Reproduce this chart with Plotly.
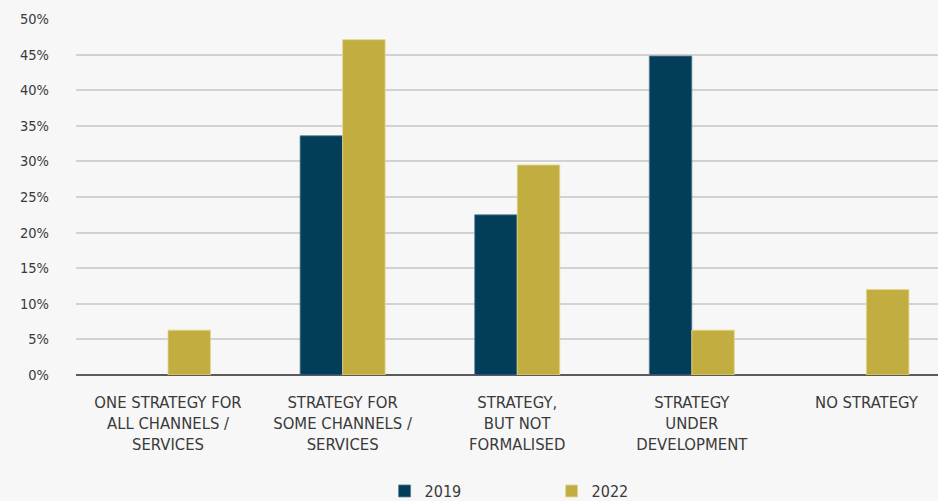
import plotly.graph_objects as go

categories = [
    "ONE STRATEGY FOR<br>ALL CHANNELS /<br>SERVICES",
    "STRATEGY FOR<br>SOME CHANNELS /<br>SERVICES",
    "STRATEGY,<br>BUT NOT<br>FORMALISED",
    "STRATEGY<br>UNDER<br>DEVELOPMENT",
    "NO STRATEGY",
]
values_2019 = [None, 33.6, 22.5, 44.8, None]
values_2022 = [6.3, 47.1, 29.5, 6.3, 12.0]
y_ticks = [0, 5, 10, 15, 20, 25, 30, 35, 40, 45, 50]
y_tick_labels = [f"{v}%" for v in y_ticks]

navy = "#033D5A"
gold = "#C2AE40"
bg = "#F7F7F7"
text_color = "#3A3A3A"
font_family = "Liberation Sans Narrow, DejaVu Sans Condensed, Roboto, sans-serif"

x_idx = list(range(len(categories)))

fig = go.Figure()
fig.add_trace(go.Bar(
    x=x_idx, y=values_2019, name="2019",
    marker=dict(color=navy, line=dict(color="#5B8196", width=0.8)),
))
fig.add_trace(go.Bar(
    x=x_idx, y=values_2022, name="2022",
    marker=dict(color=gold, line=dict(color="#E3D88E", width=0.8)),
))

fig.update_layout(
    width=938, height=501,
    margin=dict(l=76, r=0, t=19, b=126, autoexpand=False),
    paper_bgcolor=bg, plot_bgcolor=bg,
    barmode="group", bargap=0.513, bargroupgap=0,
    font=dict(family=font_family, color=text_color, size=14),
    showlegend=True,
    legend=dict(
        orientation="h", x=0.358, xanchor="left", y=-0.326, yanchor="middle",
        entrywidth=122, entrywidthmode="pixels", itemwidth=30,
        font=dict(size=16, color=text_color),
        bgcolor="rgba(0,0,0,0)",
    ),
    xaxis=dict(
        range=[-0.527, 4.41],
        tickmode="array", tickvals=x_idx, ticktext=categories,
        tickfont=dict(size=16.5, color=text_color),
        showgrid=False, zeroline=False, showline=False,
        ticks="", ticklabelstandoff=15,
    ),
    yaxis=dict(
        range=[0, 50],
        tickmode="array", tickvals=y_ticks, ticktext=y_tick_labels,
        tickfont=dict(size=14.5, color=text_color),
        showgrid=True, gridcolor="#D2D2D2", gridwidth=1.5,
        zeroline=True, zerolinecolor="#5A5A5A", zerolinewidth=2,
        showline=False, ticks="", ticklabelstandoff=26,
    ),
)

fig.write_html("out.html")
